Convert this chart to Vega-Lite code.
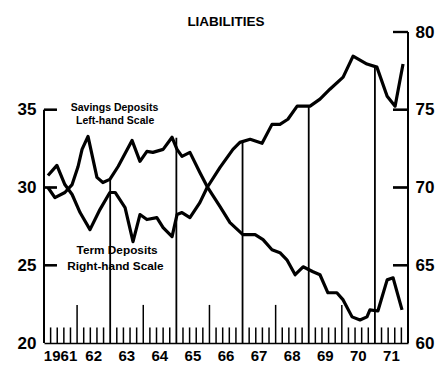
{
  "$schema": "https://vega.github.io/schema/vega-lite/v6.json",
  "width": 364,
  "height": 311,
  "autosize": {"type": "none"},
  "padding": {"left": 44, "top": 32, "right": 27, "bottom": 26},
  "background": "white",
  "title": {"text": "LIABILITIES", "font": "Liberation Sans", "fontSize": 13.5, "fontWeight": 900, "color": "black", "anchor": "middle", "frame": "group", "offset": -5},
  "config": {
    "view": {"stroke": null},
    "font": "Liberation Sans",
    "axis": {"grid": false, "ticks": false, "domain": false, "labelColor": "black", "labelFont": "Liberation Sans", "labelFontWeight": "bold", "title": null},
    "axisLeft": {"labelPadding": 8, "labelFontSize": 17},
    "axisRight": {"labelPadding": 7, "labelFontSize": 17},
    "axisBottom": {"labels": false, "domain": true, "domainColor": "black", "domainWidth": 1.5}
  },
  "datasets": {
    "savings": [
      {"year": 1961.12, "value": 30.0}, {"year": 1961.33, "value": 29.35}, {"year": 1961.63, "value": 29.68}, {"year": 1961.85, "value": 30.19},
      {"year": 1962.03, "value": 31.35}, {"year": 1962.15, "value": 32.45}, {"year": 1962.33, "value": 33.29}, {"year": 1962.6, "value": 30.65},
      {"year": 1962.78, "value": 30.32}, {"year": 1962.99, "value": 30.52}, {"year": 1963.24, "value": 31.35}, {"year": 1963.66, "value": 33.03},
      {"year": 1963.9, "value": 31.68}, {"year": 1964.11, "value": 32.32}, {"year": 1964.29, "value": 32.26}, {"year": 1964.6, "value": 32.45},
      {"year": 1964.87, "value": 33.23}, {"year": 1965.02, "value": 32.45}, {"year": 1965.17, "value": 32.0}, {"year": 1965.41, "value": 32.26},
      {"year": 1965.71, "value": 30.97}, {"year": 1965.93, "value": 30.06}, {"year": 1966.32, "value": 28.77}, {"year": 1966.62, "value": 27.74},
      {"year": 1967.01, "value": 26.97}, {"year": 1967.38, "value": 26.97}, {"year": 1967.62, "value": 26.65}, {"year": 1967.89, "value": 26.0},
      {"year": 1968.13, "value": 25.81}, {"year": 1968.34, "value": 25.35}, {"year": 1968.59, "value": 24.39}, {"year": 1968.83, "value": 24.9},
      {"year": 1969.13, "value": 24.58}, {"year": 1969.34, "value": 24.39}, {"year": 1969.58, "value": 23.23}, {"year": 1969.85, "value": 23.23},
      {"year": 1970.04, "value": 22.77}, {"year": 1970.31, "value": 21.68}, {"year": 1970.55, "value": 21.48}, {"year": 1970.76, "value": 21.68},
      {"year": 1970.85, "value": 22.13}, {"year": 1971.09, "value": 22.06}, {"year": 1971.37, "value": 24.06}, {"year": 1971.55, "value": 24.19},
      {"year": 1971.82, "value": 22.13}
    ],
    "term": [
      {"year": 1961.12, "value": 70.77}, {"year": 1961.39, "value": 71.42}, {"year": 1961.63, "value": 70.19}, {"year": 1961.85, "value": 69.55},
      {"year": 1962.09, "value": 68.39}, {"year": 1962.39, "value": 67.29}, {"year": 1962.69, "value": 68.58}, {"year": 1962.99, "value": 69.68},
      {"year": 1963.15, "value": 69.68}, {"year": 1963.45, "value": 68.71}, {"year": 1963.69, "value": 66.52}, {"year": 1963.9, "value": 68.26},
      {"year": 1964.11, "value": 67.94}, {"year": 1964.41, "value": 68.06}, {"year": 1964.6, "value": 67.42}, {"year": 1964.87, "value": 66.84},
      {"year": 1965.02, "value": 68.26}, {"year": 1965.17, "value": 68.39}, {"year": 1965.41, "value": 68.06}, {"year": 1965.71, "value": 69.03},
      {"year": 1965.93, "value": 70.0}, {"year": 1966.32, "value": 71.29}, {"year": 1966.71, "value": 72.45}, {"year": 1966.92, "value": 72.9},
      {"year": 1967.23, "value": 73.1}, {"year": 1967.59, "value": 72.84}, {"year": 1967.89, "value": 74.06}, {"year": 1968.13, "value": 74.06},
      {"year": 1968.37, "value": 74.39}, {"year": 1968.65, "value": 75.23}, {"year": 1969.04, "value": 75.23}, {"year": 1969.34, "value": 75.68},
      {"year": 1969.64, "value": 76.32}, {"year": 1970.04, "value": 77.1}, {"year": 1970.34, "value": 78.45}, {"year": 1970.76, "value": 77.94},
      {"year": 1971.06, "value": 77.74}, {"year": 1971.37, "value": 75.87}, {"year": 1971.61, "value": 75.23}, {"year": 1971.85, "value": 77.94}
    ],
    "minorTicks": [
      {"year": 1961.2}, {"year": 1961.4}, {"year": 1961.6}, {"year": 1961.8},
      {"year": 1962.2}, {"year": 1962.4}, {"year": 1962.6}, {"year": 1962.8},
      {"year": 1963.2}, {"year": 1963.4}, {"year": 1963.6}, {"year": 1963.8},
      {"year": 1964.2}, {"year": 1964.4}, {"year": 1964.6}, {"year": 1964.8},
      {"year": 1965.2}, {"year": 1965.4}, {"year": 1965.6}, {"year": 1965.8},
      {"year": 1966.2}, {"year": 1966.4}, {"year": 1966.6}, {"year": 1966.8},
      {"year": 1967.2}, {"year": 1967.4}, {"year": 1967.6}, {"year": 1967.8},
      {"year": 1968.2}, {"year": 1968.4}, {"year": 1968.6}, {"year": 1968.8},
      {"year": 1969.2}, {"year": 1969.4}, {"year": 1969.6}, {"year": 1969.8},
      {"year": 1970.2}, {"year": 1970.4}, {"year": 1970.6}, {"year": 1970.8},
      {"year": 1971.2}, {"year": 1971.4}, {"year": 1971.6}, {"year": 1971.8}
    ],
    "midTicks": [
      {"year": 1962}, {"year": 1964}, {"year": 1966}, {"year": 1968}, {"year": 1970}
    ],
    "yearLines": [
      {"year": 1963, "top": 30.6}, {"year": 1965, "top": 33.2}, {"year": 1967, "top": 32.97},
      {"year": 1969, "top": 35.2}, {"year": 1971, "top": 37.8}
    ],
    "axisLines": [
      {"year": 1961, "bottom": 20, "top": 35},
      {"year": 1972, "bottom": 20, "top": 40}
    ],
    "leftTicks": [
      {"value": 25, "start": 1961, "end": 1961.39, "mid": 1961.195},
      {"value": 30, "start": 1961, "end": 1961.39, "mid": 1961.195},
      {"value": 35, "start": 1961, "end": 1961.39, "mid": 1961.195}
    ],
    "rightTicks": [
      {"value": 65, "start": 1971.547, "end": 1972, "mid": 1971.773},
      {"value": 70, "start": 1971.547, "end": 1972, "mid": 1971.773},
      {"value": 75, "start": 1971.547, "end": 1972, "mid": 1971.773},
      {"value": 80, "start": 1971.547, "end": 1972, "mid": 1971.773}
    ],
    "yearLabels": [
      {"year": 1961.5, "label": "1961"}, {"year": 1962.5, "label": "62"}, {"year": 1963.5, "label": "63"},
      {"year": 1964.5, "label": "64"}, {"year": 1965.5, "label": "65"}, {"year": 1966.5, "label": "66"},
      {"year": 1967.5, "label": "67"}, {"year": 1968.5, "label": "68"}, {"year": 1969.5, "label": "69"},
      {"year": 1970.5, "label": "70"}, {"year": 1971.5, "label": "71"}
    ],
    "notes": [
      {"label": "Savings Deposits", "series": "savings", "year": 1963.13, "value": 35.1},
      {"label": "Left-hand Scale", "series": "savings", "year": 1963.15, "value": 34.26},
      {"label": "Term Deposits", "series": "term", "year": 1963.21, "value": 26.0},
      {"label": "Right-hand Scale", "series": "term", "year": 1963.16, "value": 24.97}
    ]
  },
  "layer": [
    {
      "layer": [
        {
          "data": {"name": "minorTicks"},
          "mark": {"type": "rule", "color": "black", "strokeWidth": 1.5},
          "encoding": {
            "x": {"field": "year", "type": "quantitative"},
            "y": {"datum": 21.0, "type": "quantitative"},
            "y2": {"datum": 20}
          }
        },
        {
          "data": {"name": "midTicks"},
          "mark": {"type": "rule", "color": "black", "strokeWidth": 1.5},
          "encoding": {
            "x": {"field": "year", "type": "quantitative"},
            "y": {"datum": 22.45, "type": "quantitative"},
            "y2": {"datum": 20}
          }
        },
        {
          "data": {"name": "yearLines"},
          "mark": {"type": "rule", "color": "black", "strokeWidth": 1.8},
          "encoding": {
            "x": {"field": "year", "type": "quantitative"},
            "y": {"field": "top", "type": "quantitative"},
            "y2": {"datum": 20}
          }
        },
        {
          "data": {"name": "axisLines"},
          "mark": {"type": "rule", "color": "black", "strokeWidth": 2},
          "encoding": {
            "x": {"field": "year", "type": "quantitative"},
            "y": {"field": "top", "type": "quantitative"},
            "y2": {"field": "bottom"}
          }
        },
        {
          "data": {"name": "leftTicks"},
          "mark": {"type": "rule", "color": "black", "strokeWidth": 2.2},
          "encoding": {
            "x": {"field": "start", "type": "quantitative"},
            "x2": {"field": "end"},
            "y": {"field": "value", "type": "quantitative"}
          }
        },
        {
          "data": {"name": "leftTicks"},
          "mark": {"type": "tick", "orient": "horizontal", "color": "black", "thickness": 2.2, "size": 13, "opacity": 1},
          "encoding": {
            "x": {"field": "mid", "type": "quantitative"},
            "y": {"field": "value", "type": "quantitative"}
          }
        },
        {
          "data": {"name": "yearLabels"},
          "mark": {"type": "text", "font": "Liberation Sans", "fontSize": 15, "fontWeight": "bold", "color": "black", "align": "center", "baseline": "middle"},
          "encoding": {
            "x": {"field": "year", "type": "quantitative"},
            "y": {"datum": 19.15, "type": "quantitative"},
            "text": {"field": "label", "type": "nominal"}
          }
        },
        {
          "data": {"name": "savings"},
          "mark": {"type": "line", "color": "black", "strokeWidth": 3.2, "strokeJoin": "round"},
          "encoding": {
            "x": {
              "field": "year",
              "type": "quantitative",
              "scale": {"domain": [1961, 1972], "nice": false, "zero": false},
              "axis": {"orient": "bottom", "labels": false, "ticks": false, "domain": true}
            },
            "y": {
              "field": "value",
              "type": "quantitative",
              "scale": {"domain": [20, 40], "nice": false, "zero": false},
              "axis": {"orient": "left", "values": [20, 25, 30, 35]}
            }
          }
        },
        {
          "data": {"name": "notes"},
          "transform": [{"filter": "datum.series == 'savings'"}],
          "mark": {"type": "text", "font": "Liberation Sans", "fontSize": 10.5, "fontWeight": "bold", "color": "black", "align": "center", "baseline": "middle"},
          "encoding": {
            "x": {"field": "year", "type": "quantitative"},
            "y": {"field": "value", "type": "quantitative"},
            "text": {"field": "label", "type": "nominal"}
          }
        },
        {
          "data": {"name": "notes"},
          "transform": [{"filter": "datum.series == 'term'"}],
          "mark": {"type": "text", "font": "Liberation Sans", "fontSize": 11.8, "fontWeight": "bold", "color": "black", "align": "center", "baseline": "middle"},
          "encoding": {
            "x": {"field": "year", "type": "quantitative"},
            "y": {"field": "value", "type": "quantitative"},
            "text": {"field": "label", "type": "nominal"}
          }
        }
      ]
    },
    {
      "layer": [
        {
          "data": {"name": "term"},
          "mark": {"type": "line", "color": "black", "strokeWidth": 3.2, "strokeJoin": "round"},
          "encoding": {
            "x": {
              "field": "year",
              "type": "quantitative",
              "axis": {"orient": "bottom", "labels": false, "ticks": false, "domain": true}
            },
            "y": {
              "field": "value",
              "type": "quantitative",
              "scale": {"domain": [60, 80], "nice": false, "zero": false},
              "axis": {"orient": "right", "values": [60, 65, 70, 75, 80]}
            }
          }
        },
        {
          "data": {"name": "rightTicks"},
          "mark": {"type": "rule", "color": "black", "strokeWidth": 2.2},
          "encoding": {
            "x": {"field": "start", "type": "quantitative"},
            "x2": {"field": "end"},
            "y": {"field": "value", "type": "quantitative"}
          }
        },
        {
          "data": {"name": "rightTicks"},
          "mark": {"type": "tick", "orient": "horizontal", "color": "black", "thickness": 2.2, "size": 15, "opacity": 1},
          "encoding": {
            "x": {"field": "mid", "type": "quantitative"},
            "y": {"field": "value", "type": "quantitative"}
          }
        }
      ]
    }
  ],
  "resolve": {"scale": {"y": "independent"}, "axis": {"y": "independent"}}
}
